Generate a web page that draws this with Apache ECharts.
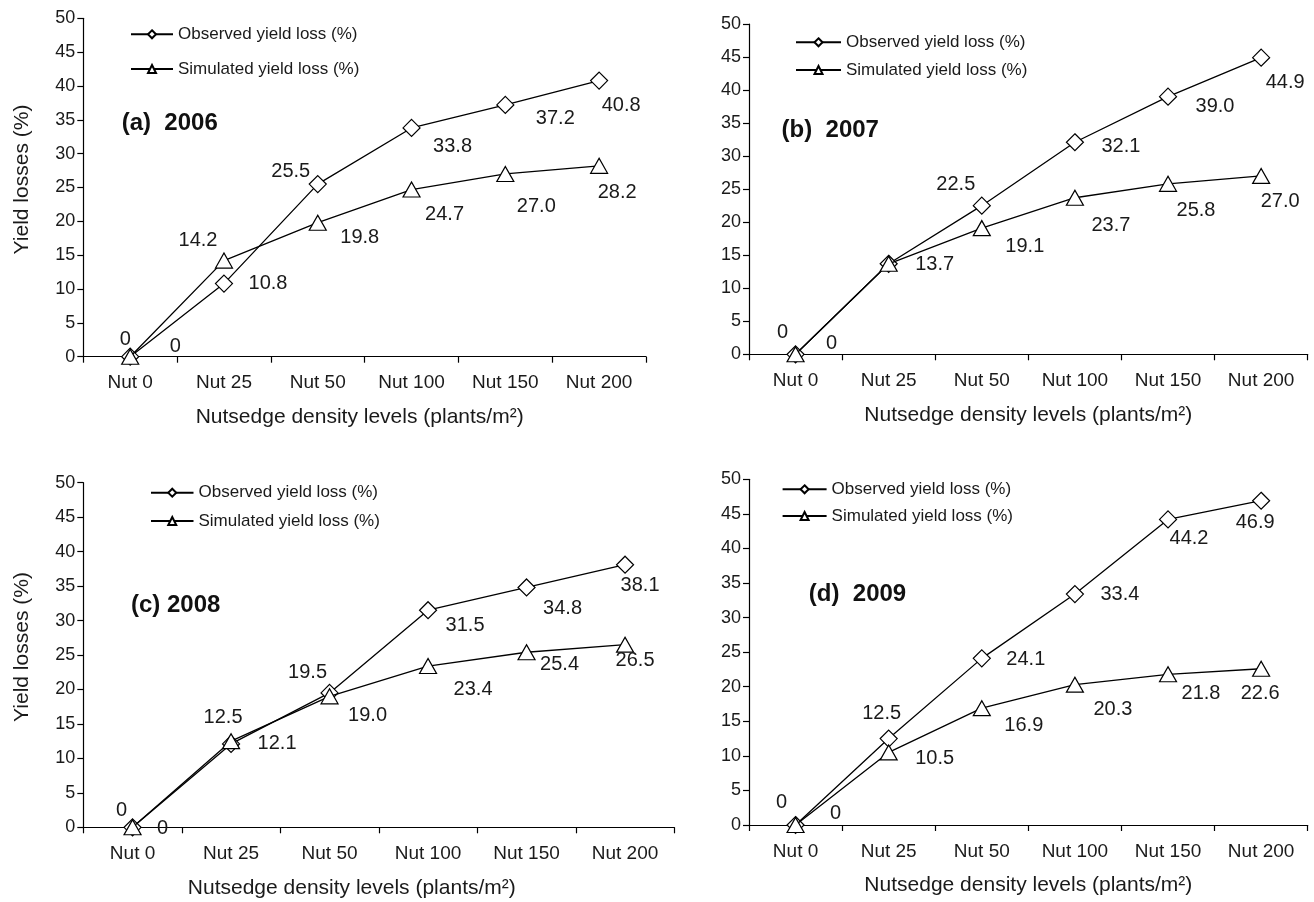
<!DOCTYPE html>
<html>
<head>
<meta charset="utf-8">
<script src="https://cdn.jsdelivr.net/npm/echarts@6/dist/echarts.min.js"></script>
<style>
html,body{margin:0;padding:0;background:#fff;}
#chart{width:1314px;height:902px;}
</style>
</head>
<body>
<div id="chart"></div>
<script>
// ---------- data ----------
const CATEGORIES = ['Nut 0', 'Nut 25', 'Nut 50', 'Nut 100', 'Nut 150', 'Nut 200'];
const SERIES_NAMES = ['Observed yield loss (%)', 'Simulated yield loss (%)'];
const OBS_2006 = [0, 10.8, 25.5, 33.8, 37.2, 40.8];
const SIM_2006 = [0, 14.2, 19.8, 24.7, 27.0, 28.2];
const OBS_2007 = [0, 13.7, 22.5, 32.1, 39.0, 44.9];
const SIM_2007 = [0, 13.7, 19.1, 23.7, 25.8, 27.0];
const OBS_2008 = [0, 12.1, 19.5, 31.5, 34.8, 38.1];
const SIM_2008 = [0, 12.5, 19.0, 23.4, 25.4, 26.5];
const OBS_2009 = [0, 12.5, 24.1, 33.4, 44.2, 46.9];
const SIM_2009 = [0, 10.5, 16.9, 20.3, 21.8, 22.6];
const PANEL_LABELS = ['(a)  2006', '(b)  2007', '(c) 2008', '(d)  2009'];
const Y_NAME = 'Yield losses (%)';
const X_NAME = 'Nutsedge density levels (plants/m²)';

// ---------- styling / layout ----------
const FONT = '"Liberation Sans", Arial, Helvetica, sans-serif';
const TXT = '#1a1a1a';
const panels = [
  { obs: OBS_2006, sim: SIM_2006, grid: { left: 83.3, top: 18.3, width: 562.7, height: 338.4 },
    yName: true, xNamePad: [0, 10, 0, 0],
    title: [121.7, 123],
    legend: { left: 130, top: 24.3, gap: 14.7, w: 42 },
    obsOff: [[-5,-17],[44,0],[-27,-13],[41,19],[50,14],[22,25]],
    simOff: [[45,-10],[-26,-20],[42,15],[33,25],[31,33],[18,27]] },
  { obs: OBS_2007, sim: SIM_2007, grid: { left: 749, top: 24, width: 558.7, height: 330.3 },
    yName: false, xNamePad: [0, 0, 0, 0],
    title: [781.6, 130.7],
    legend: { left: 795, top: 32.3, gap: 7.7, w: 45 },
    obsOff: [[-13,-22],null,[-26,-21],[46,4],[47,10],[24,25]],
    simOff: [[36,-11],[46,1],[43,18],[36,28],[28,27],[19,26]] },
  { obs: OBS_2008, sim: SIM_2008, grid: { left: 83.3, top: 482.7, width: 591, height: 344.6 },
    yName: true, xNamePad: [0, 54, 0, 0],
    title: [131, 605.7],
    legend: { left: 150, top: 482.7, gap: 8.3, w: 42.5 },
    obsOff: [[-11,-17],[46,0],[-22,-20],[37,15],[36,21],[15,21]],
    simOff: [[30,1],[-8,-24],[38,19],[45,23],[33,12],[10,16]] },
  { obs: OBS_2009, sim: SIM_2009, grid: { left: 749, top: 479.3, width: 558.7, height: 345.7 },
    yName: false, xNamePad: [0, 0, 0, 0],
    title: [808.8, 594],
    legend: { left: 781.6, top: 479.3, gap: 6.7, w: 44 },
    obsOff: [[-14,-23],[-7,-25],[44,1],[45,0],[21,19],[-6,22]],
    simOff: [[40,-12],[46,6],[42,17],[38,25],[33,19],[-1,25]] }
];

function fmt(v) { return v === 0 ? '0' : v.toFixed(1); }

function buildData(values, offsets) {
  return values.map((v, i) => {
    const off = offsets[i];
    if (!off) return { value: v, label: { show: false } };
    return { value: v, label: { show: true, position: 'inside', offset: off } };
  });
}

const grids = [], xAxes = [], yAxes = [], series = [], legends = [], graphics = [];

panels.forEach((p, k) => {
  grids.push(Object.assign({ containLabel: false }, p.grid));
  xAxes.push({
    type: 'category', gridIndex: k, data: CATEGORIES, boundaryGap: true,
    axisLine: { lineStyle: { color: '#000', width: 1.2 } },
    axisTick: { show: true, inside: false, length: 6, alignWithLabel: false, lineStyle: { color: '#000', width: 1.2 } },
    axisLabel: { color: TXT, fontSize: 19, fontFamily: FONT, margin: 17, interval: 0 },
    splitLine: { show: false },
    name: X_NAME, nameLocation: 'middle', nameGap: 50,
    nameTextStyle: { color: TXT, fontSize: 21, fontFamily: FONT, padding: p.xNamePad }
  });
  yAxes.push({
    type: 'value', gridIndex: k, min: 0, max: 50, interval: 5,
    axisLine: { show: true, lineStyle: { color: '#000', width: 1.2 } },
    axisTick: { show: true, inside: false, length: 6, lineStyle: { color: '#000', width: 1.2 } },
    axisLabel: { color: TXT, fontSize: 18, fontFamily: FONT, margin: 8 },
    splitLine: { show: false },
    name: p.yName ? Y_NAME : '', nameLocation: 'middle', nameGap: 51, nameRotate: 90,
    nameTextStyle: { color: TXT, fontSize: 21, fontFamily: FONT, padding: [0, 0, 0, 16] }
  });
  const common = {
    type: 'line', xAxisIndex: k, yAxisIndex: k, smooth: false,
    lineStyle: { color: '#000', width: 1.3 },
    itemStyle: { color: '#fff', borderColor: '#000', borderWidth: 1.2 },
    label: { color: TXT, fontSize: 20, fontFamily: FONT, formatter: (pp) => fmt(pp.value) },
    emphasis: { disabled: true },
    animation: false
  };
  series.push(Object.assign({}, common, {
    name: SERIES_NAMES[0], symbol: 'diamond', symbolSize: [17, 17], z: 2,
    data: buildData(p.obs, p.obsOff)
  }));
  series.push(Object.assign({}, common, {
    name: SERIES_NAMES[1], symbol: 'triangle', symbolSize: [17, 15], z: 3,
    data: buildData(p.sim, p.simOff)
  }));
  legends.push({
    orient: 'vertical', left: p.legend.left, top: p.legend.top, padding: 0,
    itemWidth: p.legend.w, itemHeight: 10, itemGap: p.legend.gap,
    data: SERIES_NAMES, selectedMode: false,
    textStyle: { color: TXT, fontSize: 17, fontFamily: FONT, lineHeight: 20 }
  });
  graphics.push({
    type: 'text', x: p.title[0], y: p.title[1],
    style: { text: PANEL_LABELS[k], fill: '#111', font: 'bold 24px ' + FONT, verticalAlign: 'middle', align: 'left' }
  });
});

const chart = echarts.init(document.getElementById('chart'), null, { renderer: 'canvas' });
chart.setOption({
  backgroundColor: '#fff',
  animation: false,
  grid: grids, xAxis: xAxes, yAxis: yAxes, series: series, legend: legends,
  graphic: graphics
});
</script>
</body>
</html>
